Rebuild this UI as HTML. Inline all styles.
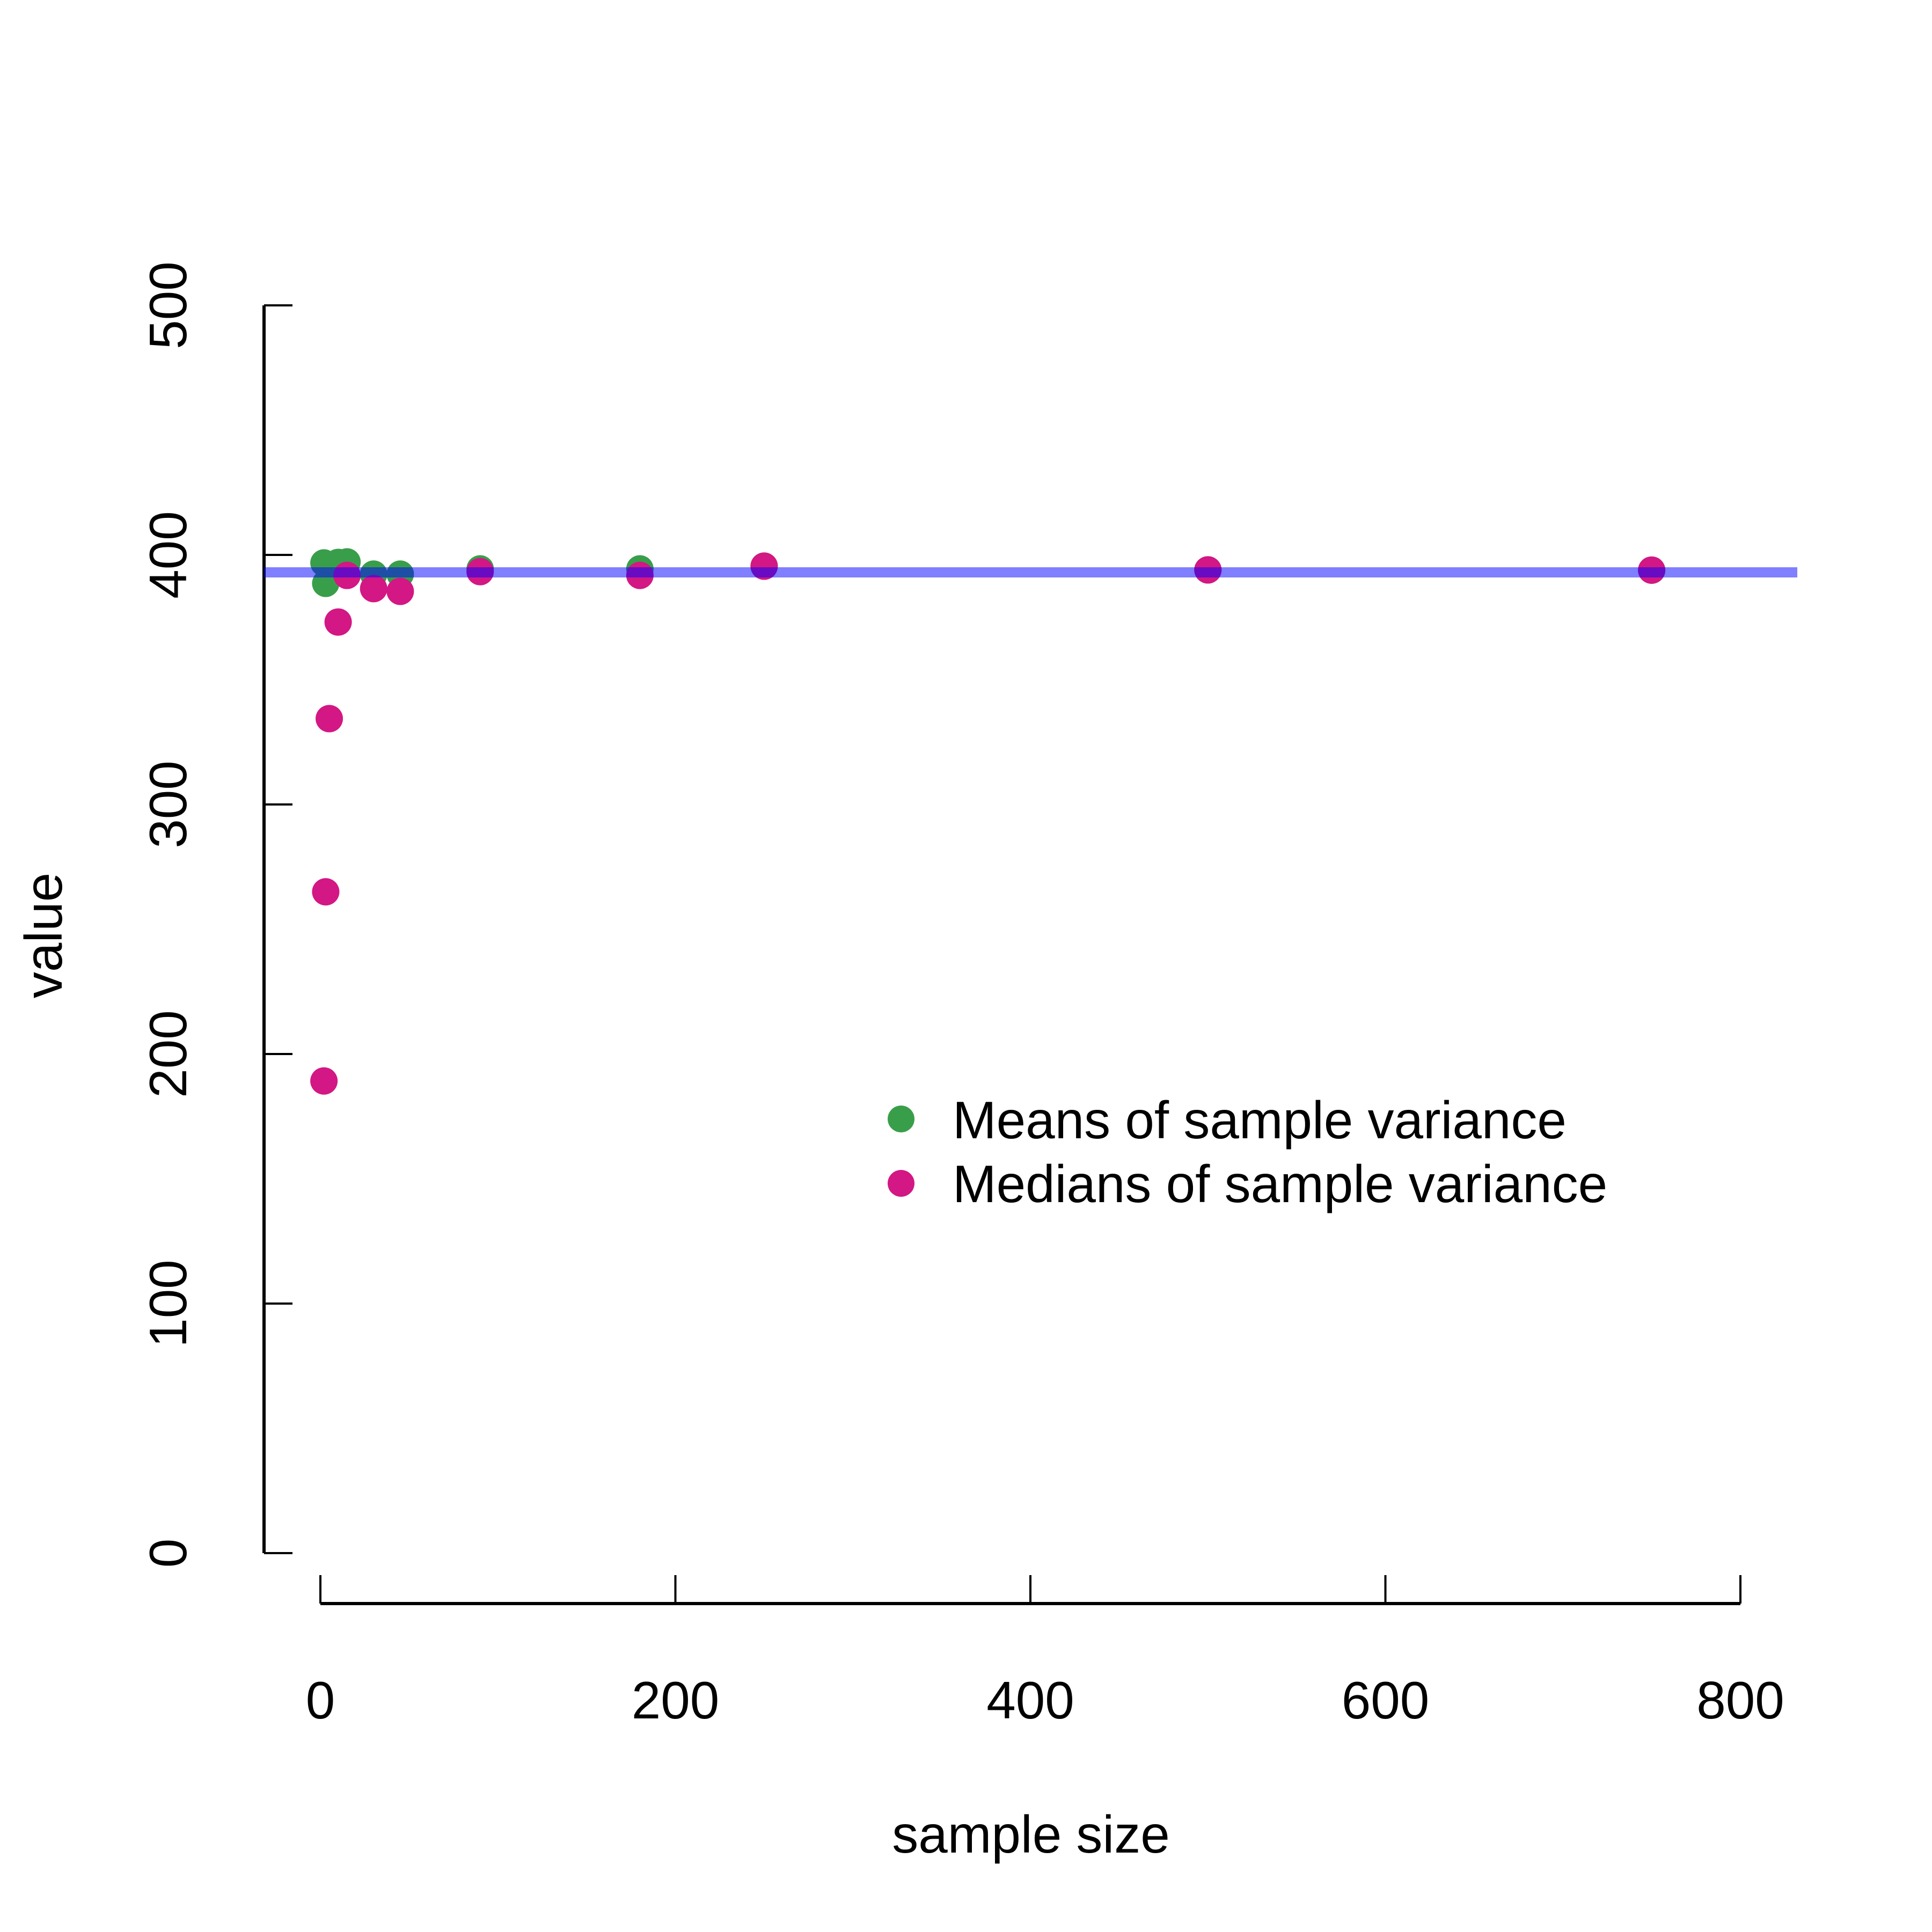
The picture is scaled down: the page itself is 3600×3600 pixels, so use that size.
<!DOCTYPE html>
<html><head><meta charset="utf-8"><style>
html,body{margin:0;padding:0;background:#fff;}
svg{display:block;font-family:"Liberation Sans",Arial,sans-serif;}
</style></head><body>
<svg id="chart" width="3600" height="3600" viewBox="0 0 3600 3600" xmlns="http://www.w3.org/2000/svg">
<rect width="3600" height="3600" fill="#fff"/>
<g id="yaxis"></g>
<g id="xaxis"></g>
<g id="marks"></g>
<text x="1921" y="3452" font-size="98" text-anchor="middle">sample size</text>
<text transform="translate(115,1743) rotate(-90)" font-size="98" text-anchor="middle">value</text>
<g>
<circle cx="1679" cy="2085" r="25" fill="#399E4A"/>
<text x="1775" y="2121" font-size="98">Means of sample variance</text>
<circle cx="1679" cy="2205" r="25" fill="#D31784"/>
<text x="1775" y="2240" font-size="98">Medians of sample variance</text>
</g>
</svg>
<script>
const sampleSizes = [2, 3, 5, 10, 15, 30, 45, 90, 180, 250, 500, 750];
const meansOfVariance = [396.8, 388.6, 395.5, 397.0, 397.2, 392.3, 392.3, 394.4, 394.4, 395.5, 394.0, 393.9];
const mediansOfVariance = [189.2, 265.0, 334.4, 373.1, 391.8, 386.5, 385.4, 393.3, 391.8, 395.5, 394.0, 393.9];
const trueVariance = [393.0];
const xTicks = [0, 200, 400, 600, 800];
const yTicks = [0, 100, 200, 300, 400, 500];

const NS = "http://www.w3.org/2000/svg";
function xs(v){ return 597 + v * (3243 - 597) / 800; }
function ys(v){ return 2894 - v * (2894 - 569) / 500; }
function mk(tag, attrs, parent){
  const e = document.createElementNS(NS, tag);
  for (const k in attrs) e.setAttribute(k, attrs[k]);
  parent.appendChild(e);
  return e;
}
const yG = document.getElementById('yaxis');
const xG = document.getElementById('xaxis');
const mG = document.getElementById('marks');

let l = mk('line', {x1: 492, x2: 492, y1: ys(0), y2: ys(500), stroke: '#000', 'stroke-width': 6}, yG);


yTicks.forEach(t => {
  const tk = mk('line', {x1: 492, x2: 545, y1: ys(t), y2: ys(t), stroke: '#000', 'stroke-width': 4}, yG);
  
  
  const tx = mk('text', {transform: 'translate(347,' + ys(t) + ') rotate(-90)', 'font-size': 98, 'text-anchor': 'middle'}, yG);
  tx.textContent = String(t);
  
  
});

l = mk('line', {x1: xs(0), x2: xs(800), y1: 2988, y2: 2988, stroke: '#000', 'stroke-width': 6}, xG);


xTicks.forEach(t => {
  const tk = mk('line', {x1: xs(t), x2: xs(t), y1: 2935, y2: 2988, stroke: '#000', 'stroke-width': 4}, xG);
  
  
  const tx = mk('text', {x: xs(t), y: 3202, 'font-size': 98, 'text-anchor': 'middle'}, xG);
  tx.textContent = String(t);
  
  
});

sampleSizes.forEach((n, i) => {
  const c = mk('circle', {cx: xs(n), cy: ys(meansOfVariance[i]), r: 25.5, fill: '#399E4A'}, mG);
  
  
});
sampleSizes.forEach((n, i) => {
  const c = mk('circle', {cx: xs(n), cy: ys(mediansOfVariance[i]), r: 25.5, fill: '#D31784'}, mG);
  
  
});
const ref = mk('line', {x1: 492, x2: 3349, y1: ys(trueVariance[0]), y2: ys(trueVariance[0]), stroke: 'rgba(0,0,255,0.5)', 'stroke-width': 19}, mG);


</script>
</body></html>
